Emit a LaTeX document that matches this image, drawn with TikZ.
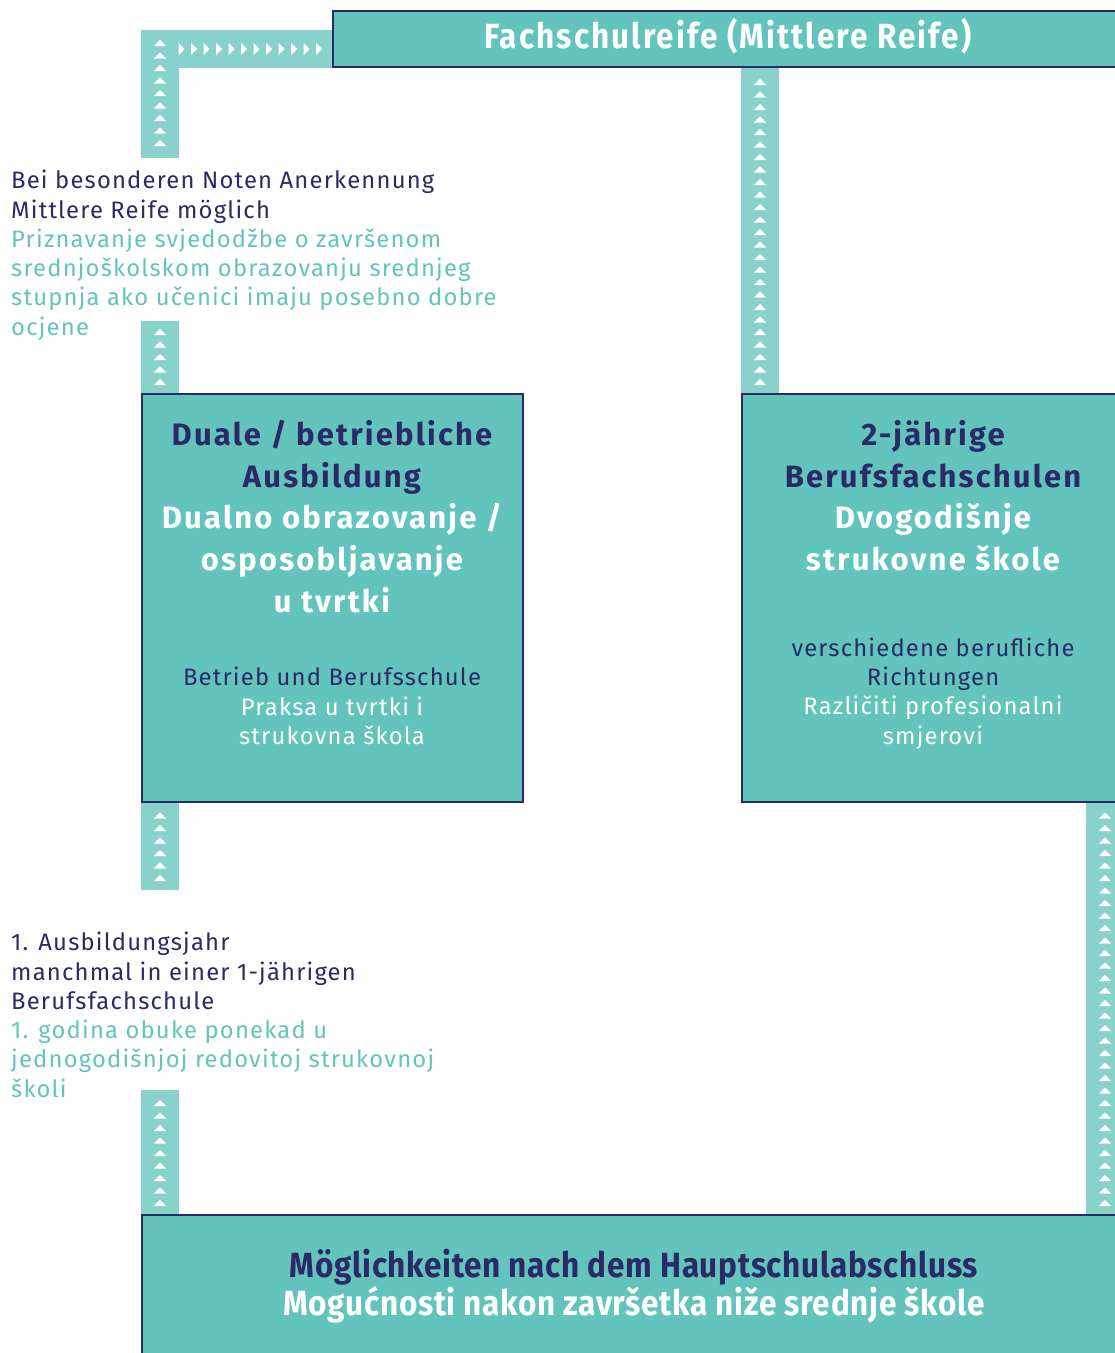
\documentclass[tikz,border=0pt]{standalone}
\usepackage{fontspec}
\setmainfont{Fira Sans}[LetterSpace=5]
\newfontfamily\bigfont{Fira Sans}[LetterSpace=7]
\newfontfamily\titlefont{Fira Sans}[FakeStretch=0.90,LetterSpace=6]
\newfontfamily\bottomfont{Fira Sans}[FakeStretch=0.90,LetterSpace=2]
\usetikzlibrary{decorations.markings}
\definecolor{boxfill}{HTML}{62C4BC}
\definecolor{barfill}{HTML}{89D1CB}
\definecolor{navy}{HTML}{2B2A66}
\definecolor{tealtxt}{HTML}{62C4BC}
\pgfdeclarelayer{background}
\pgfsetlayers{background,main}
\tikzset{
  box/.style={draw=navy, line width=1.6pt, fill=boxfill, inner sep=0pt, outer sep=0pt, anchor=north west},
  bar/.style={line width=38pt, draw=barfill, postaction={decorate},
    decoration={markings, mark=between positions #1 step 12.5pt with
      {\fill[white] (-3pt,-6.2pt) -- (3pt,0pt) -- (-3pt,6.2pt) -- cycle;}}},
  bar/.default={12pt and -11pt},
  smalltxt/.style={font=\fontsize{23.8}{29.3}\selectfont, inner sep=0pt, anchor=north},
  bigtxt/.style={font=\bigfont\bfseries\fontsize{31}{41.7}\selectfont, inner sep=0pt, anchor=north, align=center},
  titletxt/.style={font=\titlefont\bfseries\fontsize{35}{38}\selectfont, inner sep=0pt, anchor=base},
  bottomtxt/.style={font=\bottomfont\bfseries\fontsize{35}{38}\selectfont, inner sep=0pt, anchor=base},
}
\begin{document}
\begin{tikzpicture}[x=1pt,y=-1pt]
\useasboundingbox (0,0) rectangle (1115,1353);
\clip (0,0) rectangle (1115,1353);
% boxes
\node[box, minimum width=800, minimum height=56] (top) at (333,11) {};
\node[box, minimum width=381, minimum height=408] (duale) at (142,394) {};
\node[box, minimum width=420, minimum height=408] (zwei) at (742,394) {};
\node[box, minimum width=1000, minimum height=160] (bottom) at (142,1215) {};
% texts
\node[titletxt, text=white] (topT) at (728,48.5) {Fachschulreife (Mittlere Reife)};
\node[smalltxt, anchor=north west, align=left] (note1) at (11,168)
  {\strut\textcolor{navy}{Bei besonderen Noten Anerkennung}\\
   \textcolor{navy}{Mittlere Reife möglich}\\
   \textcolor{tealtxt}{Priznavanje svjedodžbe o završenom}\\
   \textcolor{tealtxt}{srednjoškolskom obrazovanju srednjeg}\\
   \textcolor{tealtxt}{stupnja ako učenici imaju posebno dobre}\\
   \textcolor{tealtxt}{ocjene}};
\node[smalltxt, anchor=north west, align=left] (note2) at (11,930)
  {\strut\textcolor{navy}{1. Ausbildungsjahr}\\
   \textcolor{navy}{manchmal in einer 1-jährigen}\\
   \textcolor{navy}{Berufsfachschule}\\
   \textcolor{tealtxt}{1. godina obuke ponekad u}\\
   \textcolor{tealtxt}{jednogodišnjoj redovitoj strukovnoj}\\
   \textcolor{tealtxt}{školi}};
\node[bigtxt] (dualeT) at (332,416)
  {\strut\textcolor{navy}{Duale / betriebliche}\\
   \textcolor{navy}{Ausbildung}\\
   \textcolor{white}{Dualno obrazovanje /}\\
   \textcolor{white}{osposobljavanje}\\
   \textcolor{white}{u tvrtki}};
\node[smalltxt, align=center] (dualeS) at (332,665)
  {\strut\textcolor{navy}{Betrieb und Berufsschule}\\
   \textcolor{white}{Praksa u tvrtki i}\\
   \textcolor{white}{strukovna škola}};
\node[bigtxt] (zweiT) at (933,416)
  {\strut\textcolor{navy}{2-jährige}\\
   \textcolor{navy}{Berufsfachschulen}\\
   \textcolor{white}{Dvogodišnje}\\
   \textcolor{white}{strukovne škole}};
\node[smalltxt, align=center] (zweiS) at (933,635.5)
  {\strut\textcolor{navy}{verschiedene berufliche}\\
   \textcolor{navy}{Richtungen}\\
   \textcolor{white}{Različiti profesionalni}\\
   \textcolor{white}{smjerovi}};
\node[bottomtxt, text=navy] (bottomT) at (634,1277)
  {Möglichkeiten nach dem Hauptschulabschluss};
\node[bottomtxt, text=white] (bottomT2) at (634,1315)
  {Mogućnosti nakon završetka niže srednje škole};
% connectors
\begin{pgfonlayer}{background}
\coordinate (lfoot) at (160,158);
\coordinate (ltop) at (160,30);
\coordinate (hstart) at (179,49);
\draw[bar={15pt and -11pt}] (lfoot) -- (ltop);
\draw[bar={2.5pt and -13pt}] (hstart) -- ([yshift=-10pt]top.west);
\draw[bar] ([xshift=18pt]zwei.north west) -- ([xshift=18pt]zwei.north west |- top.south);
\draw[bar] ([xshift=18pt]duale.north west) -- ++(0,-73);
\draw[bar] ([xshift=18pt,yshift=-88pt]duale.south west) -- ([xshift=18pt]duale.south west);
\draw[bar] ([xshift=18pt]bottom.north west) -- ++(0,-125);
\draw[bar] (bottom.north -| 1105,0) -- (zwei.south -| 1105,0);
\end{pgfonlayer}
\end{tikzpicture}
\end{document}
